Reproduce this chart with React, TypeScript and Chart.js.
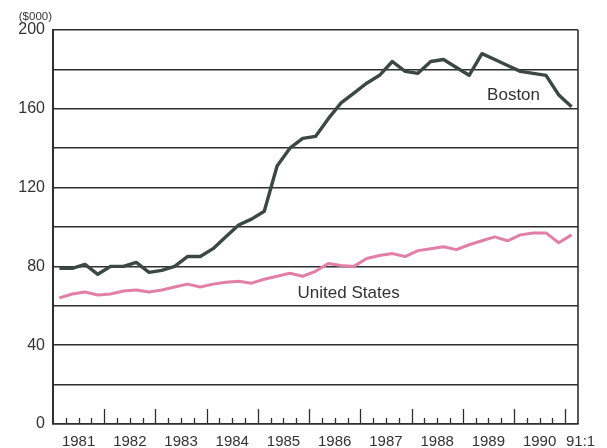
import React, { useEffect, useRef } from 'react';
import { Chart, registerables } from 'chart.js';

Chart.register(...registerables);

// Quarterly median home prices, $000, 1981:1 through 1991:1
const yearLabels = ['1981', '1982', '1983', '1984', '1985', '1986', '1987', '1988', '1989', '1990'];
const endLabel = '91:1';

const boston = [
  79, 79, 81, 76, 80, 80, 82, 77, 78, 80,
  85, 85, 89, 95, 101, 104, 108, 131, 140, 145,
  146, 155, 163, 168, 173, 177, 184, 179, 178, 184,
  185, 181, 177, 188, 185, 182, 179, 178, 177, 167,
  161,
];

const unitedStates = [
  64, 66, 67, 65.5, 66, 67.5, 68, 67, 68, 69.5,
  71, 69.5, 71, 72, 72.5, 71.5, 73.5, 75, 76.5, 75,
  77.5, 81.5, 80.5, 80, 84, 85.5, 86.5, 85, 88, 89,
  90, 88.5, 91, 93, 95, 93, 96, 97, 97, 92,
  96,
];

const seriesNames = ['Boston', 'United States'];
const unitLabel = '($000)';

const FONT = '"Liberation Sans", Arial, Helvetica, sans-serif';
const INK = '#2f2f2f';
const BOSTON_COLOR = '#3b4843';
const US_COLOR = '#e17fa6';

// annotation anchors in data coordinates
const bostonLabelAt = { x: 33.9, y: 167 };
const usLabelAt = { x: 19.1, y: 66.5 };

const quarterCount = boston.length; // 41 quarters
const xTickValues = [...yearLabels.map((_, k) => 4 * k + 2), quarterCount + 0.2];
const xTickText = [...yearLabels, endLabel];

const decorPlugin = {
  id: 'decor',
  afterDatasetsDraw(chart: any) {
    const { ctx, chartArea, scales } = chart;
    const xs = scales.x;
    const ys = scales.y;
    ctx.save();
    // right frame
    ctx.strokeStyle = INK;
    ctx.lineWidth = 1.6;
    ctx.beginPath();
    ctx.moveTo(chartArea.right, chartArea.top);
    ctx.lineTo(chartArea.right, chartArea.bottom);
    ctx.stroke();
    // quarter ticks pointing inward
    ctx.lineWidth = 1.3;
    for (let i = 1; i < quarterCount; i++) {
      const px = Math.round(xs.getPixelForValue(i)) + 0.5;
      const h = i % 4 === 0 ? 15 : 6;
      ctx.beginPath();
      ctx.moveTo(px, chartArea.bottom);
      ctx.lineTo(px, chartArea.bottom - h);
      ctx.stroke();
    }
    // series labels
    ctx.fillStyle = '#333';
    ctx.textBaseline = 'middle';
    ctx.textAlign = 'left';
    ctx.font = `17px ${FONT}`;
    ctx.fillText(seriesNames[0], xs.getPixelForValue(bostonLabelAt.x), ys.getPixelForValue(bostonLabelAt.y));
    ctx.fillText(seriesNames[1], xs.getPixelForValue(usLabelAt.x), ys.getPixelForValue(usLabelAt.y));
    // unit label
    ctx.font = `11.5px ${FONT}`;
    ctx.textAlign = 'right';
    ctx.fillText(unitLabel, chartArea.left - 1, chartArea.top - 13);
    ctx.restore();
  },
};

export default function App() {
  const canvasRef = useRef<HTMLCanvasElement | null>(null);

  useEffect(() => {
    const canvas = canvasRef.current;
    if (!canvas) return;
    const chart = new Chart(canvas, {
      type: 'line',
      data: {
        datasets: [
          {
            label: seriesNames[1],
            data: unitedStates.map((v, i) => ({ x: i + 0.5, y: v })),
            borderColor: US_COLOR,
            borderWidth: 3,
            pointRadius: 0,
            tension: 0,
            borderJoinStyle: 'round',
          },
          {
            label: seriesNames[0],
            data: boston.map((v, i) => ({ x: i + 0.5, y: v })),
            borderColor: BOSTON_COLOR,
            borderWidth: 3.4,
            pointRadius: 0,
            tension: 0,
            borderJoinStyle: 'round',
          },
        ],
      },
      options: {
        animation: false,
        responsive: false,
        events: [],
        layout: { padding: { left: 0, top: 30, right: 29, bottom: 0 } },
        plugins: {
          legend: { display: false },
          tooltip: { enabled: false },
        },
        scales: {
          x: {
            type: 'linear',
            min: 0,
            max: quarterCount,
            grid: { display: false, drawTicks: false },
            border: { display: true, color: INK, width: 1.6 },
            afterBuildTicks: (scale: any) => {
              scale.ticks = xTickValues.map((v) => ({ value: v }));
            },
            afterFit: (scale: any) => {
              scale.height = 24;
            },
            ticks: {
              autoSkip: false,
              maxRotation: 0,
              minRotation: 0,
              padding: 9,
              color: '#333',
              font: { family: FONT, size: 15 },
              callback: (_v: any, index: number) => xTickText[index],
            },
          },
          y: {
            min: 0,
            max: 200,
            grid: { color: INK, lineWidth: 1.6, drawTicks: false },
            border: { display: true, color: INK, width: 2 },
            afterFit: (scale: any) => {
              scale.width = 53;
            },
            ticks: {
              stepSize: 20,
              padding: 8,
              color: '#333',
              font: { family: FONT, size: 16 },
              callback: (v: any) => (Number(v) % 40 === 0 ? String(v) : ''),
            },
          },
        },
      },
      plugins: [decorPlugin],
    } as any);
    return () => chart.destroy();
  }, []);

  return (
    <div style={{ position: 'absolute', left: 0, top: 0, width: 607, height: 448, background: '#fff' }}>
      <canvas ref={canvasRef} width={607} height={448} style={{ display: 'block' }} />
    </div>
  );
}
